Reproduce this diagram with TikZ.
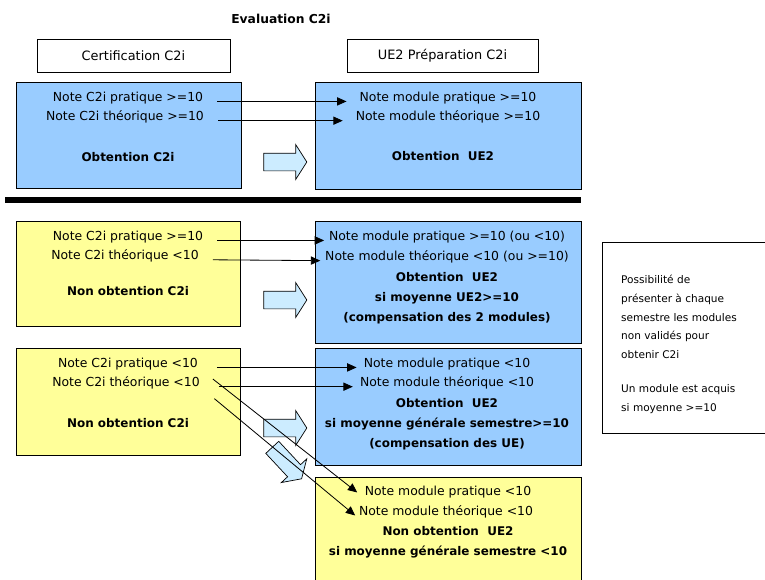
\documentclass[tikz,border=0pt]{standalone}
\usepackage{fontspec}
\setmainfont{DejaVu Sans}
\usetikzlibrary{arrows.meta,shapes.arrows}

\definecolor{boxblue}{HTML}{99CCFF}
\definecolor{boxyellow}{HTML}{FFFF99}
\definecolor{arrowblue}{HTML}{CCECFF}

\begin{document}
\begin{tikzpicture}[x=0.03cm, y=-0.03cm,
  font=\fontsize{10.6}{17}\selectfont,
  box/.style={rectangle, draw, line width=0.8pt},
  txt/.style={inner sep=0pt},
  bold/.style={inner sep=0pt, font=\fontsize{10.2}{17}\selectfont\bfseries},
  link/.style={-{Triangle[length=8pt, width=7pt]}, line width=0.7pt},
  fat/.style={single arrow, draw, fill=arrowblue, line width=0.6pt,
    minimum height=1.29cm, inner xsep=0pt, inner ysep=0.255cm,
    single arrow head extend=0.255cm, single arrow tip angle=115}]
  \useasboundingbox (0,0) rectangle (765,579);

  \node (t) [font=\fontsize{10.5}{13}\selectfont\bfseries] at (281,19) {Evaluation C2i};
  \node (h1) [box, font=\fontsize{11}{13}\selectfont, minimum width=5.79cm, minimum height=0.99cm] at (133.5,55.5) {Certification C2i};
  \node (h2) [box, font=\fontsize{11}{13}\selectfont, minimum width=5.73cm, minimum height=0.99cm] at (442.5,55.5) {UE2 Préparation C2i};

  % boxes
  \node (b1) [box, fill=boxblue, minimum width=6.75cm, minimum height=3.18cm] at (128.5,135) {};
  \node (b2) [box, fill=boxblue, minimum width=7.98cm, minimum height=3.21cm] at (448,135.5) {};
  \node (y1) [box, fill=boxyellow, minimum width=6.72cm, minimum height=3.15cm] at (128,273.5) {};
  \node (b3) [box, fill=boxblue, minimum width=7.98cm, minimum height=3.66cm] at (448,282) {};
  \node (y2) [box, fill=boxyellow, minimum width=6.72cm, minimum height=3.21cm] at (128,401.5) {};
  \node (b4) [box, fill=boxblue, minimum width=7.98cm, minimum height=3.51cm] at (448,406.5) {};
  \node (y3) [box, fill=boxyellow, minimum width=7.98cm, minimum height=3.39cm] at (448,533.5) {};
  \node (n) [box, minimum width=5.19cm, minimum height=5.73cm] at (688.5,338) {};

  \draw[line width=5pt] (5,200) -- (581,200);

  % big arrows
  \node (f1) [fat] at (282.5,162) {};
  \node (f2) [fat] at (282.5,300) {};
  \node (f3) [fat] at (282.5,428) {};
  \node (f4) [fat, rotate=-47] at (285,461) {};

  % texts
  \node (cp1) [txt] at (128,98) {Note C2i pratique >=10};
  \node (ct1) [txt] at (125,117) {Note C2i théorique >=10};
  \node (o1) [bold] at (128,157) {Obtention C2i};
  \node (mp1) [txt] at (448,98) {Note module pratique >=10};
  \node (mt1) [txt] at (448,117) {Note module théorique >=10};
  \node (o2) [bold] at (443,156) {Obtention~ UE2};

  \node (cp2) [txt] at (128,237) {Note C2i pratique >=10};
  \node (ct2) [txt] at (125,256) {Note C2i théorique <10};
  \node (o3) [bold] at (128,291) {Non obtention C2i};
  \node (mp2) [txt] at (447,237) {Note module pratique >=10 (ou <10)};
  \node (mt2) [txt] at (447,257) {Note module théorique <10 (ou >=10)};
  \node (o4) [bold, align=center] at (447,298) {Obtention~ UE2\\si moyenne UE2>=10\\(compensation des 2 modules)};

  \node (cp3) [txt] at (128,364) {Note C2i pratique <10};
  \node (ct3) [txt] at (126,383) {Note C2i théorique <10};
  \node (o5) [bold] at (128,423) {Non obtention C2i};
  \node (mp3) [txt] at (447,364) {Note module pratique <10};
  \node (mt3) [txt] at (447,383) {Note module théorique <10};
  \node (o6) [bold, align=center] at (447,424) {Obtention~ UE2\\si moyenne générale semestre>=10\\(compensation des UE)};

  \node (mp4) [txt] at (448,492) {Note module pratique <10};
  \node (mt4) [txt] at (446,512) {Note module théorique <10};
  \node (o7) [bold, align=center] at (448,542) {Non obtention~ UE2\\si moyenne générale semestre <10};

  \node (r) [txt, align=left, anchor=north west, font=\fontsize{9}{16}\selectfont] at (621,275) {Possibilité de\\présenter à chaque\\semestre les modules\\non validés pour\\obtenir C2i\\[13pt]Un module est acquis\\si moyenne >=10};

  % links
  \draw[link, shorten <=12pt, shorten >=11pt] (cp1.base east) -- (mp1.base west);
  \draw[link, shorten <=12pt, shorten >=11pt] (ct1.base east) -- (mt1.base west);
  \draw[link, shorten <=12pt, shorten >=4pt] (cp2.base east) -- (mp2.base west);
  \draw[link, shorten <=12pt, shorten >=4pt] (ct2.base east) -- (mt2.base west);
  \draw[link, shorten <=16pt, shorten >=6pt] (cp3.base east) -- (mp3.base west);
  \draw[link, shorten <=16pt, shorten >=6pt] (ct3.base east) -- (mt3.base west);
  \draw[link, shorten <=16pt, shorten >=8pt] (cp3.base east) -- (mp4.south west);
  \draw[link, shorten <=16pt, shorten >=4pt] (ct3.base east) -- (mt4.south west);
\end{tikzpicture}
\end{document}
